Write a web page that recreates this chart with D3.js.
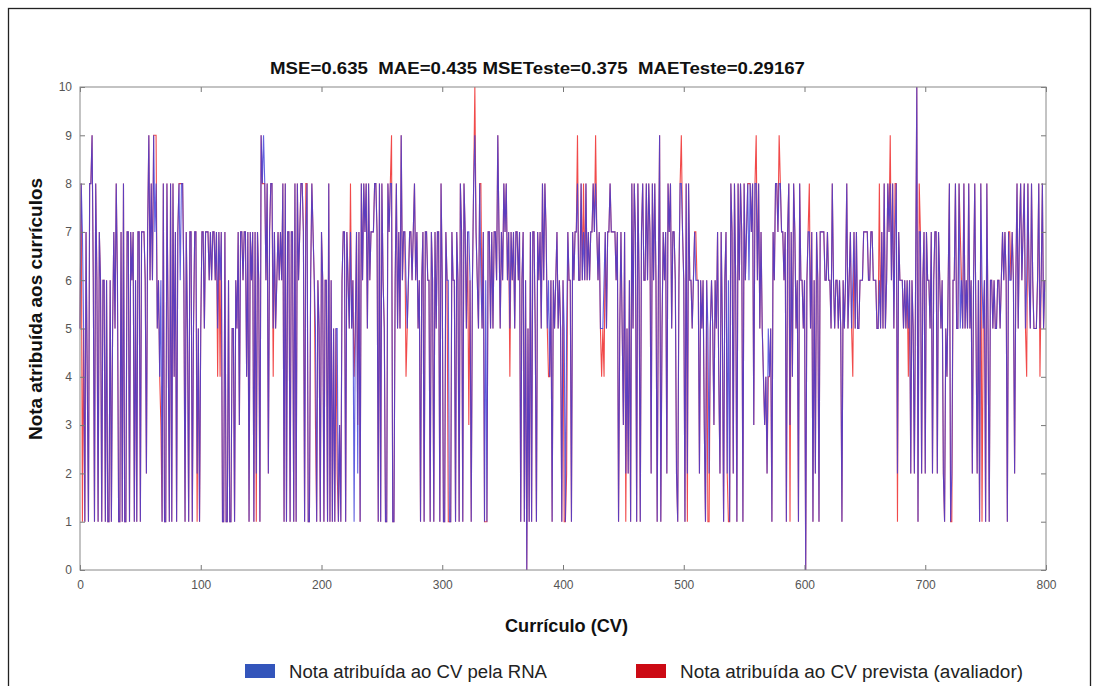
<!DOCTYPE html>
<html>
<head>
<meta charset="utf-8">
<script src="https://cdn.jsdelivr.net/npm/d3@7"></script>
<style>
  body { margin: 0; background: #fff; }
  svg { display: block; }
  .tick text { font-family: "Liberation Sans Narrow", "Arial Narrow", "Liberation Sans", sans-serif; }
  .lbl { font-family: "Liberation Sans", Arial, sans-serif; white-space: pre; }
</style>
</head>
<body>
<svg width="1094" height="686"></svg>
<script>
// nota dada pela RNA, CV 0..799
const notasRNA = [
  5,8,7,5,1,7,4,1,8,8,9,6,1,8,6,1,7,6,1,6,6,1,6,1,1,6,1,5,7,5,
  8,6,1,1,7,1,8,1,1,7,7,1,7,6,7,1,6,1,7,7,1,7,7,7,6,2,7,9,6,8,
  6,9,7,8,5,6,4,6,1,8,1,1,8,5,1,8,1,8,4,7,1,7,8,6,8,8,6,1,7,5,
  1,7,7,1,5,7,7,2,5,1,5,7,7,5,7,7,7,6,7,6,7,7,6,7,5,7,6,7,1,1,
  7,1,1,6,1,1,5,5,1,6,5,7,3,7,7,6,7,7,4,7,1,7,6,7,1,7,2,7,6,1,
  9,8,9,8,6,8,2,7,8,8,5,7,5,6,7,6,7,6,8,1,8,1,7,7,1,7,7,1,8,1,
  8,6,7,8,8,7,1,7,8,1,1,6,8,7,6,5,1,6,5,1,7,6,1,6,6,1,8,1,6,1,
  5,1,5,5,1,3,1,6,7,7,1,7,6,5,7,5,6,1,5,7,2,7,1,8,6,8,7,8,5,8,
  6,7,7,7,8,8,7,1,8,1,8,6,5,1,1,8,7,8,8,1,1,6,8,5,7,5,9,6,7,7,
  6,5,6,7,7,6,7,8,6,7,5,6,1,6,7,1,7,7,6,6,1,7,6,1,7,5,7,7,1,8,
  6,1,1,7,6,6,1,1,7,6,6,1,7,6,1,8,7,1,8,7,5,7,7,6,1,6,8,9,7,6,
  5,8,6,5,7,1,6,1,7,7,5,7,5,7,7,6,9,7,5,7,6,8,7,8,6,7,5,7,6,7,
  5,7,7,6,7,1,6,7,1,6,0,5,1,7,1,7,7,5,1,7,6,7,5,8,6,8,7,5,6,4,
  6,1,6,5,6,7,5,6,5,1,6,5,1,5,7,6,6,1,7,6,7,7,8,6,6,8,6,7,6,8,
  6,7,6,7,7,8,7,8,7,6,7,5,5,5,6,7,5,7,7,8,7,7,7,7,6,7,1,5,7,5,
  3,7,2,5,2,6,1,8,5,8,7,1,8,6,1,7,8,6,6,8,6,8,7,2,8,6,8,6,1,6,
  9,1,5,7,6,7,2,8,7,8,5,7,7,6,2,1,6,8,8,7,6,1,8,2,8,6,6,5,6,7,
  6,6,6,2,6,5,6,3,1,6,5,2,5,6,5,3,6,5,7,4,2,7,5,1,6,7,2,6,1,8,
  7,2,8,6,1,8,6,8,7,1,8,6,7,8,6,8,7,8,3,8,8,6,8,5,7,5,4,3,4,2,
  5,4,5,1,7,6,8,8,7,8,8,7,7,6,7,1,7,8,3,7,4,8,7,5,6,1,8,6,6,5,
  6,0,6,7,7,5,7,1,6,2,7,6,1,7,7,7,7,6,6,7,6,6,5,8,6,5,6,6,5,6,
  5,1,6,5,6,8,5,6,7,5,6,7,5,7,5,5,6,6,6,7,7,7,7,6,6,7,7,6,6,6,
  5,5,6,5,7,5,8,5,6,8,7,8,6,8,5,7,8,2,7,6,6,6,5,6,5,6,5,6,2,6,
  5,2,6,10,1,7,7,2,6,7,2,7,6,6,5,7,2,6,7,7,2,7,6,5,6,2,1,5,4,6,
  8,1,2,6,6,8,5,5,8,5,6,5,8,5,6,5,8,5,6,2,6,8,5,2,6,1,8,6,5,6,
  1,8,5,1,6,6,5,6,5,5,6,6,5,6,7,6,7,6,1,7,6,6,7,6,2,6,8,5,7,8,
  6,7,8,5,6,8,6,5,8,6,5,5,5,6,8,5,6,8,5,6
];

// pontos em que a nota do avaliador difere da RNA: [CV, nota]
const difAvaliador = [
  [2,1],[24,1],[26,1],[62,9],[63,9],[65,6],[67,3],[83,8],[97,1],[114,4],
  [116,4],[146,1],[150,9],[152,8],[160,4],[187,8],[195,3],[213,2],[224,8],[227,4],
  [230,3],[258,9],[270,4],[305,1],[322,3],[327,10],[332,8],[336,1],[356,4],[388,4],
  [401,1],[403,2],[412,9],[417,8],[427,9],[432,4],[434,4],[452,1],[498,9],[503,1],
  [510,7],[520,1],[521,1],[537,1],[554,8],[560,9],[566,4],[570,4],[579,9],[588,1],
  [604,8],[640,4],[662,8],[671,9],[675,8],[677,1],[686,4],[695,8],[716,1],[722,1],
  [729,7],[747,1],[770,7],[784,4],[795,4]
];

const yTicks = [0,1,2,3,4,5,6,7,8,9,10];
const xTicks = [0,100,200,300,400,500,600,700,800];

const titulo = 'MSE=0.635  MAE=0.435 MSETeste=0.375  MAETeste=0.29167';
const serieRNA = 'Nota atribuída ao CV pela RNA';
const serieAval = 'Nota atribuída ao CV prevista (avaliador)';

const notasAval = notasRNA.slice();
difAvaliador.forEach(([i, v]) => { notasAval[i] = v; });

const svg = d3.select('svg');
const mLeft = 80, mRight = 1046, mTop = 87, mBottom = 570;

// moldura da figura
svg.append('rect')
  .attr('x', 8.5).attr('y', 8.5)
  .attr('width', 1082).attr('height', 720)
  .attr('fill', 'none').attr('stroke', '#222').attr('stroke-width', 1.3);

const x = d3.scaleLinear().domain([0, 800]).range([mLeft, mRight]);
const y = d3.scaleLinear().domain([0, 10]).range([mBottom, mTop]);

const line = d3.line()
  .x((d, i) => x(i))
  .y(d => y(d));

svg.append('path')
  .datum(notasAval)
  .attr('d', line)
  .attr('fill', 'none')
  .attr('stroke', '#ee2a2a')
  .attr('stroke-opacity', 0.85)
  .attr('stroke-width', 1.1);

svg.append('path')
  .datum(notasRNA)
  .attr('d', line)
  .attr('fill', 'none')
  .attr('stroke', '#3a3ad8')
  .attr('stroke-opacity', 0.8)
  .attr('stroke-width', 1.1);

// eixos com marcas internas, estilo matlab
const styleAxis = g => {
  g.select('.domain').remove();
  g.selectAll('.tick line').attr('stroke', '#777');
  g.selectAll('.tick text').attr('fill', '#555').attr('font-size', 12);
};

svg.append('g')
  .attr('transform', `translate(0,${mBottom})`)
  .call(d3.axisBottom(x).tickValues(xTicks).tickSize(-5).tickPadding(10))
  .call(styleAxis);

svg.append('g')
  .attr('transform', `translate(0,${mTop})`)
  .call(d3.axisTop(x).tickValues(xTicks).tickSize(-5).tickFormat(''))
  .call(styleAxis);

svg.append('g')
  .attr('transform', `translate(${mLeft},0)`)
  .call(d3.axisLeft(y).tickValues(yTicks).tickSize(-5).tickPadding(8))
  .call(styleAxis);

svg.append('g')
  .attr('transform', `translate(${mRight},0)`)
  .call(d3.axisRight(y).tickValues(yTicks).tickSize(-5).tickFormat(''))
  .call(styleAxis);

svg.append('rect')
  .attr('x', mLeft).attr('y', mTop)
  .attr('width', mRight - mLeft).attr('height', mBottom - mTop)
  .attr('fill', 'none').attr('stroke', '#888');

svg.append('text')
  .attr('class', 'lbl')
  .attr('x', 270).attr('y', 74)
  .attr('textLength', 535)
  .attr('lengthAdjust', 'spacingAndGlyphs')
  .attr('font-weight', 'bold')
  .attr('font-size', 17)
  .attr('fill', '#111')
  .text(titulo);

svg.append('text')
  .attr('class', 'lbl')
  .attr('x', 505).attr('y', 632)
  .attr('textLength', 123)
  .attr('lengthAdjust', 'spacingAndGlyphs')
  .attr('font-weight', 'bold')
  .attr('font-size', 18)
  .attr('fill', '#111')
  .text('Currículo (CV)');

svg.append('text')
  .attr('class', 'lbl')
  .attr('transform', 'translate(42,440) rotate(-90)')
  .attr('textLength', 262)
  .attr('lengthAdjust', 'spacingAndGlyphs')
  .attr('font-weight', 'bold')
  .attr('font-size', 18)
  .attr('fill', '#111')
  .text('Nota atribuída aos currículos');

// legenda
const legend = [
  { label: serieRNA, color: '#3355bb', x: 245, w: 258 },
  { label: serieAval, color: '#cc0a14', x: 636, w: 343 }
];
const lg = svg.selectAll('.leg').data(legend).enter().append('g')
  .attr('transform', d => `translate(${d.x},664)`);
lg.append('rect')
  .attr('width', 30).attr('height', 14)
  .attr('fill', d => d.color);
lg.append('text')
  .attr('class', 'lbl')
  .attr('x', 44).attr('y', 14)
  .attr('textLength', d => d.w)
  .attr('lengthAdjust', 'spacingAndGlyphs')
  .attr('font-size', 18)
  .attr('fill', '#222')
  .text(d => d.label);
</script>
</body>
</html>
